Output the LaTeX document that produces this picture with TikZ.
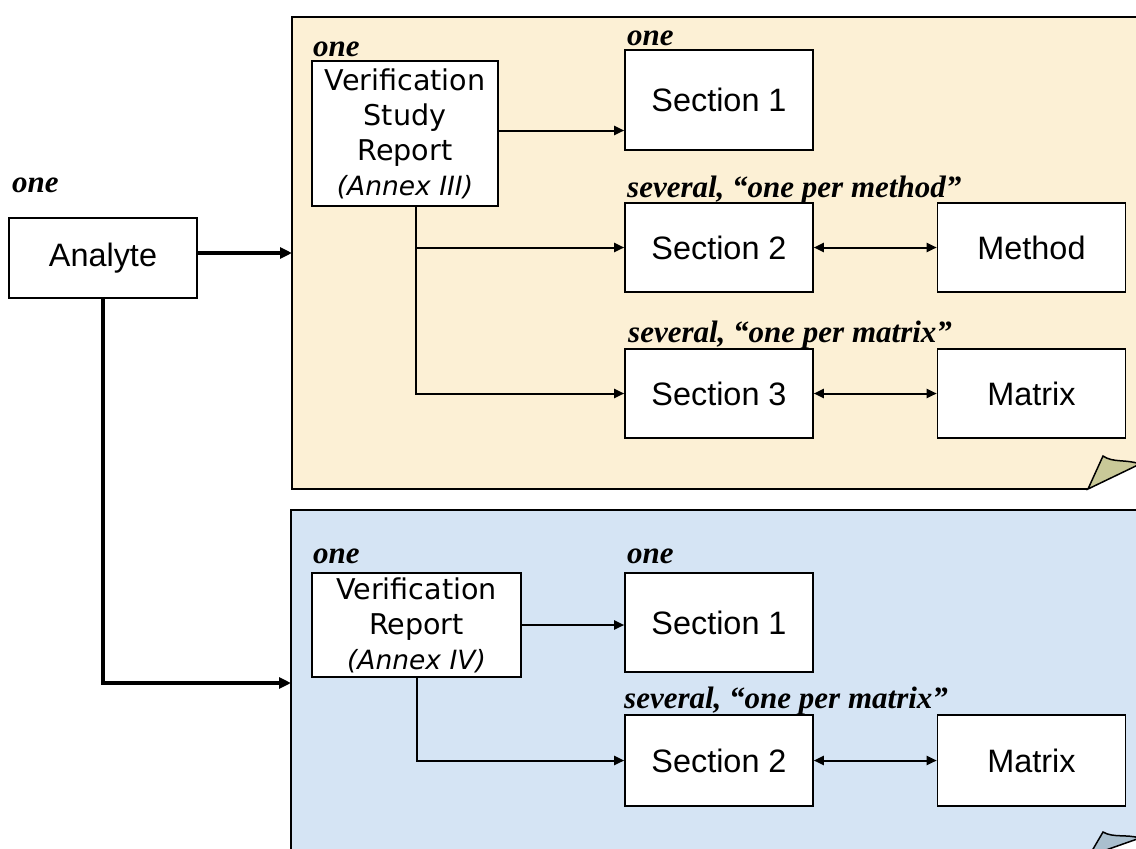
\documentclass[tikz,border=0pt]{standalone}
\usepackage{fontspec}
\setmainfont{Liberation Sans}
\newfontfamily\verdfont{DejaVu Sans}
\newfontfamily\timesfont{Liberation Serif}
\usetikzlibrary{arrows.meta}

\definecolor{parch}{RGB}{252,240,213}
\definecolor{parchfold}{RGB}{201,201,152}
\definecolor{skyblue}{RGB}{213,228,244}
\definecolor{bluefold}{RGB}{170,191,206}

\begin{document}
\begin{tikzpicture}[x=1pt,y=-1pt,
  box/.style={draw, line width=1.6pt, fill=white, inner sep=0pt,
    minimum width=188pt, minimum height=89pt,
    font=\fontsize{32.4}{36}\selectfont},
  repbox/.style={draw, line width=1.6pt, fill=white, inner sep=0pt,
    align=center, font=\verdfont\fontsize{28.6}{35}\selectfont},
  lab/.style={anchor=base west, inner sep=0pt,
    font=\timesfont\bfseries\itshape\fontsize{31}{34}\selectfont},
  page/.style={line width=1.5pt},
  arr/.style={line width=2pt, -{Triangle[length=10pt,width=9pt]}},
  darr/.style={line width=2pt, {Triangle[length=10pt,width=9pt]}-{Triangle[length=10pt,width=9pt]}},
  bigarr/.style={line width=3.8pt, -{Triangle[length=12pt,width=11pt]}},
]
\useasboundingbox (0,0) rectangle (1136,849);
\clip (0,0) rectangle (1136,849);

% upper sheet with curled corner
\fill[parch] (292,17) -- (1140,17) -- (1140,464) -- (1088,489) -- (292,489) -- cycle;
\draw[page] (1140,17) -- (292,17) -- (292,489) -- (1088,489);
\draw[page, fill=parchfold] (1088,489) -- (1103,456)
  .. controls (1113,463) and (1126,459) .. (1140,464) -- cycle;

% lower sheet with curled corner
\fill[skyblue] (291,510) -- (1140,510) -- (1140,838) -- (1089,856) -- (291,856) -- cycle;
\draw[page] (1140,510) -- (291,510) -- (291,856);
\draw[page, fill=bluefold] (1089,856) -- (1103,832)
  .. controls (1113,838) and (1126,834) .. (1140,838) -- cycle;

% analyte
\node[lab] (lAn) at (12,192) {one};
\node[box, minimum height=80pt] (An) at (103,258) {Analyte};

% verification study report (upper sheet)
\node[lab] (lVSR) at (313,56) {one};
\node[repbox, minimum width=186pt, minimum height=145pt] (VSR) at (405,133.5)
  {Verification\\Study\\Report\\{\itshape\fontsize{26.5}{35}\selectfont(Annex III)}};

\node[lab] (lS1) at (627,45) {one};
\node[box, minimum height=100pt] (S1) at (719,100) {Section 1};

\node[lab] (lS2) at (627,197) {several, “one per method”};
\node[box] (S2) at (719,247.5) {Section 2};
\node[box] (Me) at (1031.5,247.5) {Method};

\node[lab] (lS3) at (628,342) {several, “one per matrix”};
\node[box] (S3) at (719,393.5) {Section 3};
\node[box] (Ma) at (1031.5,393.5) {Matrix};

% verification report (lower sheet)
\node[lab] (lVR) at (313,563) {one};
\node[repbox, minimum width=209pt, minimum height=104pt] (VR) at (416.5,625)
  {Verification\\Report\\{\itshape\fontsize{26.5}{35}\selectfont(Annex IV)}};

\node[lab] (lT1) at (627,563) {one};
\node[box, minimum height=99pt] (T1) at (719,622.5) {Section 1};

\node[lab] (lT2) at (624,708) {several, “one per matrix”};
\node[box, minimum height=91pt] (T2) at (719,760.5) {Section 2};
\node[box, minimum height=91pt] (Mb) at (1031.5,760.5) {Matrix};

% entry points on the sheets
\coordinate (upperIn) at (292,253);
\coordinate (lowerIn) at (291,683);

% connectors
\draw[bigarr] ([yshift=5pt]An.east) -- (upperIn);
\draw[bigarr] (An.south) |- (lowerIn);

\draw[arr] ([yshift=3pt]VSR.east) -- ([yshift=3pt]VSR.east -| S1.west);
\coordinate (vsrDrop) at ([xshift=11pt]VSR.south);
\draw[arr] (vsrDrop) |- (S2.west);
\draw[arr] (vsrDrop) |- (S3.west);
\draw[darr] (S2.east) -- (Me.west);
\draw[darr] (S3.east) -- (Ma.west);

\draw[arr] (VR.east) -- (VR.east -| T1.west);
\draw[arr] (VR.south) |- (T2.west);
\draw[darr] (T2.east) -- (Mb.west);
\end{tikzpicture}
\end{document}
